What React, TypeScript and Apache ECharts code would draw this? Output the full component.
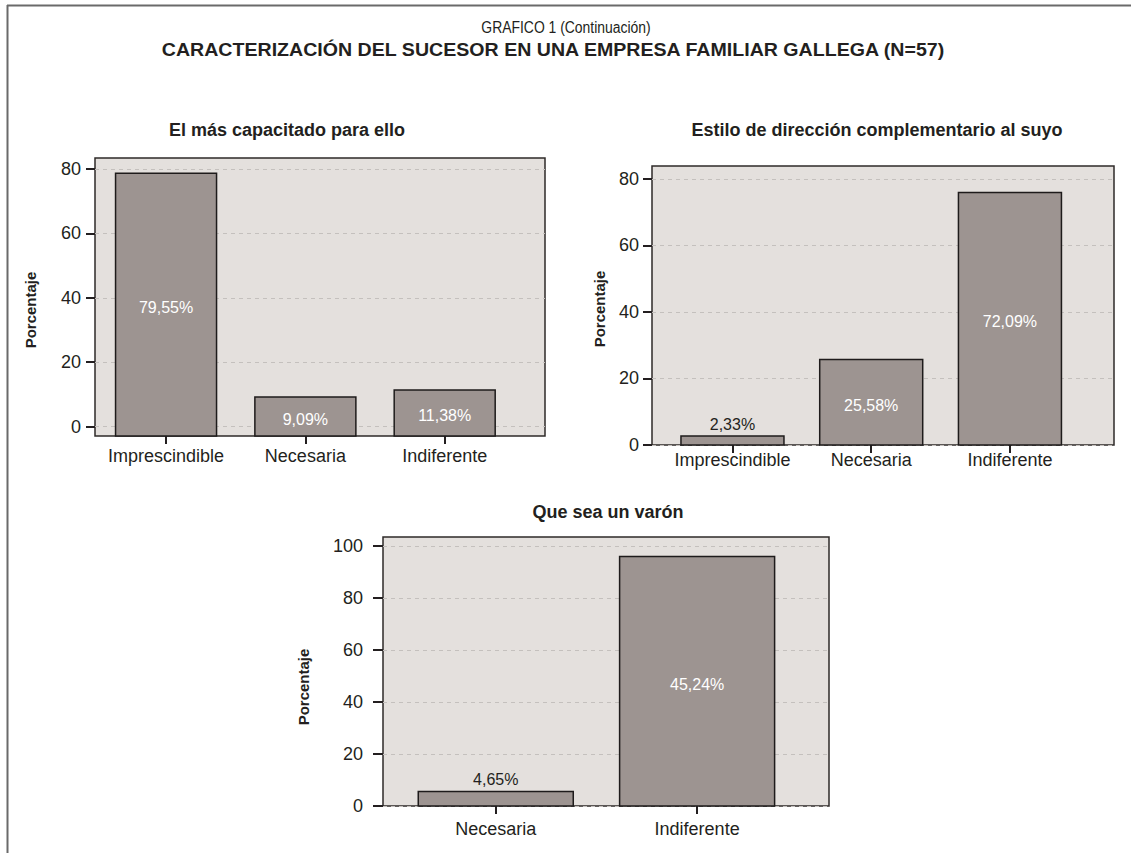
import React, { useEffect, useRef } from "react";
import * as echarts from "echarts";

const FONT = "'Liberation Sans', Arial, Helvetica, sans-serif";

const mainTitle = "GRAFICO 1 (Continuación)";
const mainSubtitle = "CARACTERIZACIÓN DEL SUCESOR EN UNA EMPRESA FAMILIAR GALLEGA (N=57)";
const yAxisTitle = "Porcentaje";

const chart1Title = "El más capacitado para ello";
const chart1Categories = ["Imprescindible", "Necesaria", "Indiferente"];
const chart1Heights = [78.7, 9.2, 11.4];
const chart1Labels = ["79,55%", "9,09%", "11,38%"];

const chart2Title = "Estilo de dirección complementario al suyo";
const chart2Categories = ["Imprescindible", "Necesaria", "Indiferente"];
const chart2Heights = [2.7, 25.7, 75.9];
const chart2Labels = ["2,33%", "25,58%", "72,09%"];

const chart3Title = "Que sea un varón";
const chart3Categories = ["Necesaria", "Indiferente"];
const chart3Heights = [5.6, 96.0];
const chart3Labels = ["4,65%", "45,24%"];

const yTicks80 = [0, 20, 40, 60, 80];
const yTicks100 = [0, 20, 40, 60, 80, 100];

const PLOT_BG = "#e4e0dd";
const BAR_FILL = "#9d9491";
const BAR_STROKE = "#1e1b1b";
const BOX_STROKE = "#2e2a29";
const TEXT = "#231f20";
const GRID_LINE = "#c4c0bd";

type Panel = {
  title: string;
  titleX: number;
  titleY: number;
  cats: string[];
  heights: number[];
  labels: string[];
  yTicks: number[];
  grid: { left: number; top: number; width: number; height: number };
  xMin: number;
  xMax: number;
  yMin: number;
  yMax: number;
  barWidth: number;
  yLabelMargin: number;
  yTickLen: number;
  xLabelMargin: number;
  yTitleX: number;
  yTitleY: number;
};

const panels: Panel[] = [
  {
    title: chart1Title, titleX: 287, titleY: 130,
    cats: chart1Categories, heights: chart1Heights, labels: chart1Labels, yTicks: yTicks80,
    grid: { left: 95, top: 158, width: 450, height: 278 },
    xMin: 0.49, xMax: 3.72, yMin: -2.9, yMax: 83.4, barWidth: 101,
    yLabelMargin: 14, yTickLen: 9, xLabelMargin: 11, yTitleX: 30, yTitleY: 310,
  },
  {
    title: chart2Title, titleX: 877, titleY: 130,
    cats: chart2Categories, heights: chart2Heights, labels: chart2Labels, yTicks: yTicks80,
    grid: { left: 652, top: 166, width: 462, height: 279 },
    xMin: 0.42, xMax: 3.75, yMin: 0, yMax: 83.9, barWidth: 103,
    yLabelMargin: 13, yTickLen: 9, xLabelMargin: 6, yTitleX: 599, yTitleY: 309,
  },
  {
    title: chart3Title, titleX: 608, titleY: 512,
    cats: chart3Categories, heights: chart3Heights, labels: chart3Labels, yTicks: yTicks100,
    grid: { left: 383, top: 537, width: 446, height: 269 },
    xMin: 0.44, xMax: 2.655, yMin: 0, yMax: 103.5, barWidth: 155,
    yLabelMargin: 20, yTickLen: 10, xLabelMargin: 14, yTitleX: 303, yTitleY: 687,
  },
];

function makeRenderItem(labels: string[], barWidth: number) {
  return (params: any, api: any) => {
    const x = api.value(0);
    const v = api.value(1);
    const topPt = api.coord([x, v]);
    const cs = params.coordSys;
    const bottom = cs.y + cs.height;
    const h = bottom - topPt[1];
    const label = labels[params.dataIndex];
    const inside = h > 30;
    return {
      type: "group",
      children: [
        {
          type: "rect",
          shape: { x: topPt[0] - barWidth / 2, y: topPt[1], width: barWidth, height: h },
          style: { fill: BAR_FILL, stroke: BAR_STROKE, lineWidth: 1.5 },
        },
        {
          type: "text",
          x: topPt[0],
          y: inside ? topPt[1] + h / 2 + 3 : topPt[1] - 12,
          style: {
            text: label,
            fill: inside ? "#ffffff" : TEXT,
            font: `16px ${FONT}`,
            align: "center",
            verticalAlign: "middle",
            textAlign: "center",
            textVerticalAlign: "middle",
          },
        },
      ],
    };
  };
}

function textEl(text: string, x: number, y: number, font: string, extra: any = {}) {
  return {
    type: "text",
    x,
    y,
    ...extra,
    style: {
      text,
      fill: TEXT,
      font,
      align: "center",
      verticalAlign: "middle",
      textAlign: "center",
      textVerticalAlign: "middle",
    },
  };
}

export default function App() {
  const ref = useRef<HTMLDivElement>(null);

  useEffect(() => {
    if (!ref.current) return;
    const chart = echarts.init(ref.current, undefined, { renderer: "svg" });

    const grids = panels.map((p) => ({
      ...p.grid,
      show: true,
      backgroundColor: PLOT_BG,
      borderColor: BOX_STROKE,
      borderWidth: 1.5,
      containLabel: false,
    }));

    const xAxes = panels.map((p, i) => {
      const idx = p.cats.map((_, k) => k + 1);
      return {
        gridIndex: i,
        type: "value",
        min: p.xMin,
        max: p.xMax,
        axisLine: { show: false, onZero: false },
        axisTick: { show: true, customValues: idx, length: 8, lineStyle: { color: TEXT, width: 2 } },
        axisLabel: {
          customValues: idx,
          formatter: (v: number) => p.cats[Math.round(v) - 1] ?? "",
          margin: p.xLabelMargin,
          fontSize: 18,
          fontFamily: FONT,
          color: TEXT,
        },
        splitLine: { show: false },
      };
    });

    const yAxes = panels.map((p, i) => ({
      gridIndex: i,
      type: "value",
      min: p.yMin,
      max: p.yMax,
      axisLine: { show: false, onZero: false },
      axisTick: { show: true, customValues: p.yTicks, length: p.yTickLen, lineStyle: { color: TEXT, width: 2 } },
      axisLabel: {
        customValues: p.yTicks,
        margin: p.yLabelMargin,
        fontSize: 18,
        fontFamily: FONT,
        color: TEXT,
      },
      splitLine: { show: true, lineStyle: { color: GRID_LINE, type: [4, 4], width: 1 } },
    }));

    const series = panels.map((p, i) => ({
      type: "custom",
      xAxisIndex: i,
      yAxisIndex: i,
      renderItem: makeRenderItem(p.labels, p.barWidth),
      data: p.heights.map((h, k) => [k + 1, h]),
      z: 3,
    }));

    const graphic: any[] = [
      {
        type: "line",
        shape: { x1: 7, y1: 5.5, x2: 1131, y2: 5.5 },
        style: { stroke: "#6a6a6a", lineWidth: 2 },
      },
      {
        type: "line",
        shape: { x1: 7.5, y1: 5, x2: 7.5, y2: 853 },
        style: { stroke: "#6a6a6a", lineWidth: 2 },
      },
      textEl(mainTitle, 566, 27, `16px ${FONT}`, { scaleX: 0.87 }),
      textEl(mainSubtitle, 553, 50, `bold 17.5px ${FONT}`, { scaleX: 1.12 }),
    ];
    panels.forEach((p) => {
      graphic.push(textEl(p.title, p.titleX, p.titleY, `bold 18px ${FONT}`));
      graphic.push(textEl(yAxisTitle, p.yTitleX, p.yTitleY, `bold 15px ${FONT}`, { rotation: Math.PI / 2 }));
    });

    chart.setOption({
      animation: false,
      backgroundColor: "#ffffff",
      grid: grids,
      xAxis: xAxes,
      yAxis: yAxes,
      series,
      graphic,
    });

    return () => {
      chart.dispose();
    };
  }, []);

  return (
    <div
      ref={ref}
      style={{ position: "absolute", left: 0, top: 0, width: 1131, height: 853 }}
    />
  );
}
